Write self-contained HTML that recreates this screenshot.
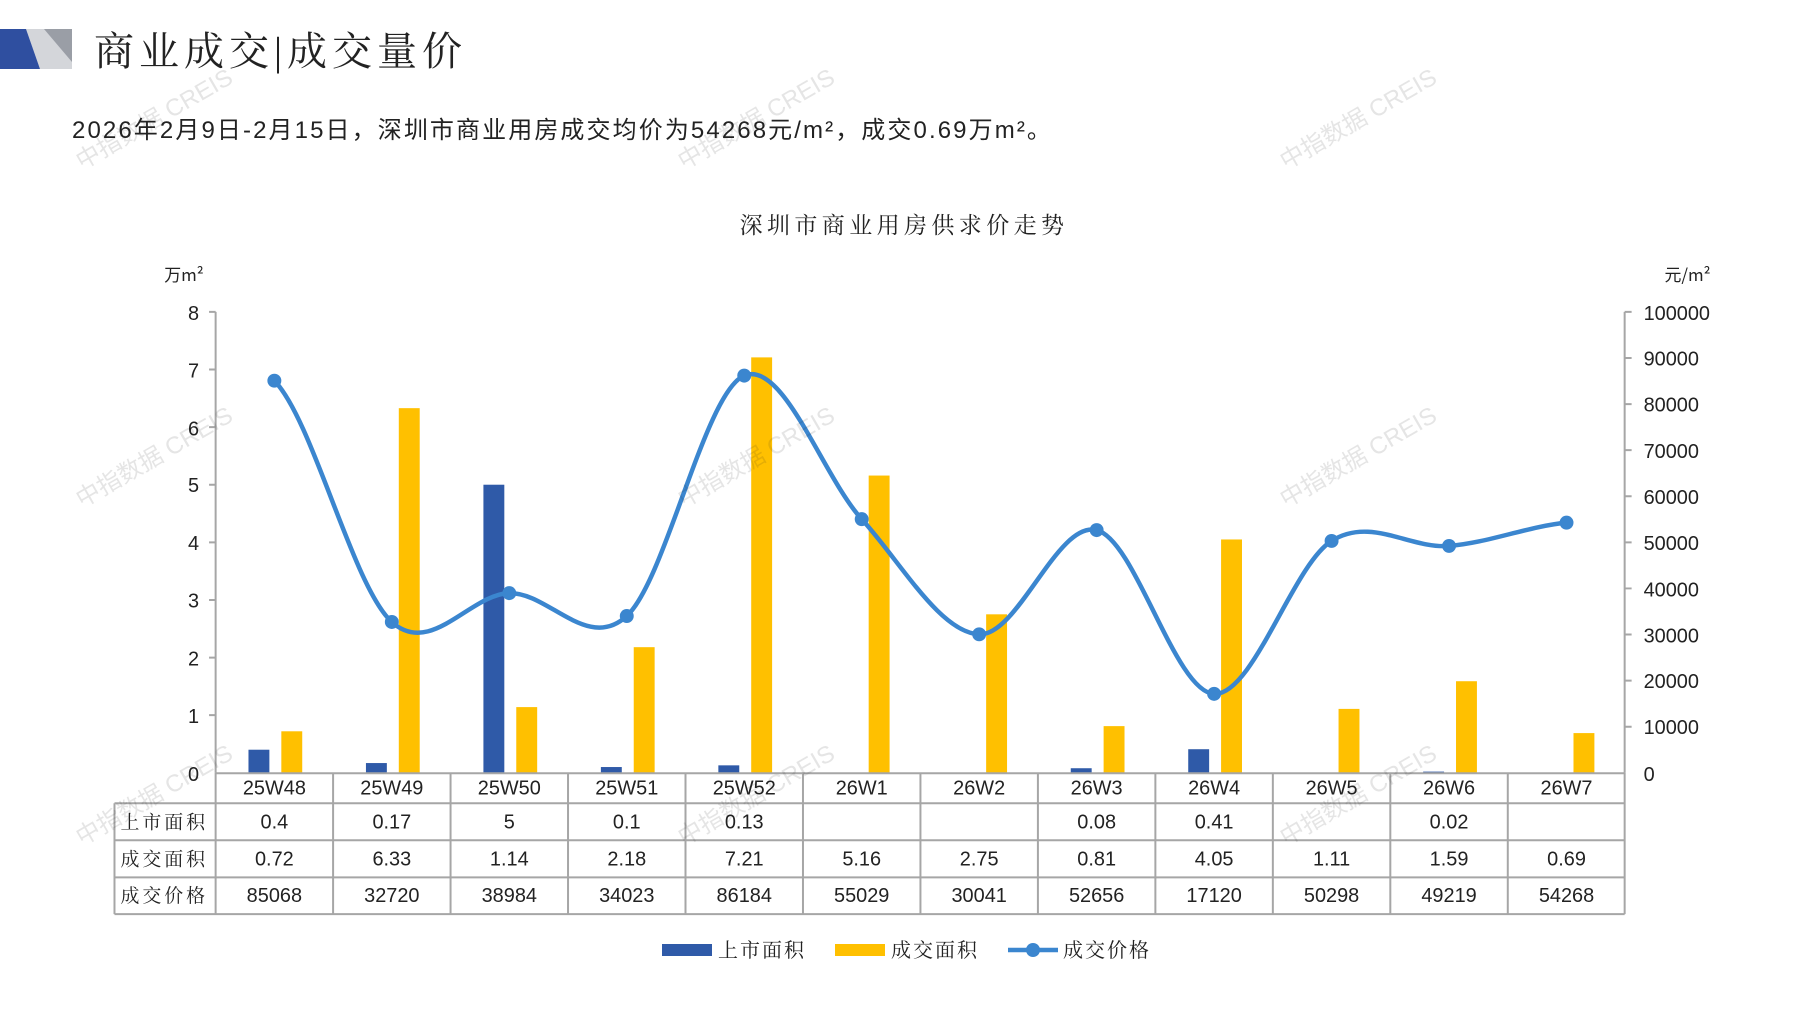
<!DOCTYPE html>
<html><head><meta charset="utf-8"><style>
html,body{margin:0;padding:0;background:#fff;}
svg{display:block;}
text{font-family:"Liberation Sans","Noto Sans CJK SC",sans-serif;fill:#222;}
.c{font-family:"Noto Sans CJK SC","WenQuanYi Zen Hei",sans-serif;}
.s{font-family:"Liberation Serif","Noto Serif CJK SC",serif;}
.wm{font-family:"Liberation Sans","Noto Sans CJK SC",sans-serif;fill:#000;opacity:0.12;font-size:24px;}
</style></head><body>
<svg width="1797" height="1010" viewBox="0 0 1797 1010" xmlns="http://www.w3.org/2000/svg">
<rect width="1797" height="1010" fill="#fff"/>
<polygon points="26,29 72,29 72,69 40,69" fill="#d4d6da"/>
<polygon points="44,29 72,29 72,62" fill="#9a9ea6"/>
<polygon points="0,29 26,29 40,69 0,69" fill="#2f4fa0"/>
<text x="94" y="65" class="s" font-size="40" fill="#111" letter-spacing="5">商业成交|成交量价</text>
<text x="72" y="138" font-size="24" fill="#333" letter-spacing="2.1">2026年2月9日-2月15日，深圳市商业用房成交均价为54268元/m²，成交0.69万m²。</text>
<text x="904" y="233" text-anchor="middle" class="s" font-size="23" fill="#333" letter-spacing="4.4">深圳市商业用房供求价走势</text>
<g transform="translate(0,0.3) scale(0.9955)">
<text x="165" y="282" class="c" font-size="17" fill="#333">万m²</text>
<text x="1672" y="282" class="c" font-size="17" fill="#333">元/m²</text>
<g stroke="#a6a6a6" stroke-width="2" fill="none">
<line x1="216.6" y1="313" x2="216.6" y2="776"/>
<line x1="1632" y1="313" x2="1632" y2="776"/>
<path d="M210 313H216.6M210 370.9H216.6M210 428.8H216.6M210 486.6H216.6M210 544.5H216.6M210 602.4H216.6M210 660.3H216.6M210 718.1H216.6"/>
<path d="M1632 313H1639M1632 359.3H1639M1632 405.6H1639M1632 451.9H1639M1632 498.2H1639M1632 544.5H1639M1632 590.8H1639M1632 637.1H1639M1632 683.4H1639M1632 729.7H1639"/>
</g>
<g font-size="20" fill="#333" text-anchor="end">
<text x="200" y="321">8</text><text x="200" y="379">7</text><text x="200" y="437">6</text><text x="200" y="494">5</text><text x="200" y="552">4</text><text x="200" y="610">3</text><text x="200" y="668">2</text><text x="200" y="726">1</text><text x="200" y="784">0</text>
</g>
<g font-size="20" fill="#333">
<text x="1651" y="321">100000</text><text x="1651" y="367">90000</text><text x="1651" y="413">80000</text><text x="1651" y="460">70000</text><text x="1651" y="506">60000</text><text x="1651" y="552">50000</text><text x="1651" y="599">40000</text><text x="1651" y="645">30000</text><text x="1651" y="691">20000</text><text x="1651" y="737">10000</text><text x="1651" y="784">0</text>
</g>
<g fill="#2f5aa8">
<rect x="249.6" y="752.8" width="21" height="23.2"/>
<rect x="367.6" y="766.2" width="21" height="9.8"/>
<rect x="485.6" y="486.6" width="21" height="289.4"/>
<rect x="603.6" y="770.2" width="21" height="5.8"/>
<rect x="721.6" y="768.5" width="21" height="7.5"/>
<rect x="1075.6" y="771.4" width="21" height="4.6"/>
<rect x="1193.6" y="752.3" width="21" height="23.7"/>
<rect x="1429.6" y="774.8" width="21" height="1.2"/>
</g>
<g fill="#ffc000">
<rect x="282.6" y="734.3" width="21" height="41.7"/>
<rect x="400.6" y="409.7" width="21" height="366.3"/>
<rect x="518.6" y="710" width="21" height="66"/>
<rect x="636.6" y="649.8" width="21" height="126.2"/>
<rect x="754.6" y="358.7" width="21" height="417.3"/>
<rect x="872.6" y="477.4" width="21" height="298.6"/>
<rect x="990.6" y="616.8" width="21" height="159.2"/>
<rect x="1108.6" y="729.1" width="21" height="46.9"/>
<rect x="1226.6" y="541.6" width="21" height="234.4"/>
<rect x="1344.6" y="711.8" width="21" height="64.2"/>
<rect x="1462.6" y="684" width="21" height="92"/>
<rect x="1580.6" y="736.1" width="21" height="39.9"/>
</g>
<path fill="none" stroke="#3b86cf" stroke-width="4.5" stroke-linecap="round" d="M275.6,382.1 C314.9,422.5 354.3,588.9 393.6,624.5 C432.9,660.1 472.3,596.5 511.6,595.5 C550.9,594.5 590.3,654.9 629.6,618.5 C668.9,582.1 708.3,393.2 747.6,377.0 C786.9,360.8 826.3,477.9 865.6,521.2 C904.9,564.5 944.3,635.1 983.6,636.9 C1022.9,638.7 1062.3,522.2 1101.6,532.2 C1140.9,542.2 1180.3,694.9 1219.6,696.7 C1258.9,698.5 1298.3,567.9 1337.6,543.1 C1376.9,518.3 1416.3,551.2 1455.6,548.1 C1494.9,545.0 1534.3,528.6 1573.6,524.7"/>
<g fill="#3b86cf">
<circle cx="275.6" cy="382.1" r="7"/><circle cx="393.6" cy="624.5" r="7"/><circle cx="511.6" cy="595.5" r="7"/><circle cx="629.6" cy="618.5" r="7"/><circle cx="747.6" cy="377" r="7"/><circle cx="865.6" cy="521.2" r="7"/><circle cx="983.6" cy="636.9" r="7"/><circle cx="1101.6" cy="532.2" r="7"/><circle cx="1219.6" cy="696.7" r="7"/><circle cx="1337.6" cy="543.1" r="7"/><circle cx="1455.6" cy="548.1" r="7"/><circle cx="1573.6" cy="524.7" r="7"/>
</g>
<g stroke="#a6a6a6" stroke-width="2" fill="none">
<line x1="216.6" y1="776.5" x2="1632" y2="776.5"/>
<line x1="115" y1="806.6" x2="1632" y2="806.6"/>
<line x1="115" y1="843.8" x2="1632" y2="843.8"/>
<line x1="115" y1="881" x2="1632" y2="881"/>
<line x1="115" y1="918" x2="1632" y2="918"/>
<line x1="115" y1="806.6" x2="115" y2="918"/>
<path d="M216.6 776V918M334.6 776V918M452.6 776V918M570.6 776V918M688.6 776V918M806.6 776V918M924.6 776V918M1042.6 776V918M1160.6 776V918M1278.6 776V918M1396.6 776V918M1514.6 776V918M1632 776V918"/>
</g>
<g font-size="20" fill="#222" text-anchor="middle">
<text x="275.6" y="798">25W48</text><text x="393.6" y="798">25W49</text><text x="511.6" y="798">25W50</text><text x="629.6" y="798">25W51</text><text x="747.6" y="798">25W52</text><text x="865.6" y="798">26W1</text><text x="983.6" y="798">26W2</text><text x="1101.6" y="798">26W3</text><text x="1219.6" y="798">26W4</text><text x="1337.6" y="798">26W5</text><text x="1455.6" y="798">26W6</text><text x="1573.6" y="798">26W7</text>
<text x="275.6" y="832">0.4</text><text x="393.6" y="832">0.17</text><text x="511.6" y="832">5</text><text x="629.6" y="832">0.1</text><text x="747.6" y="832">0.13</text><text x="1101.6" y="832">0.08</text><text x="1219.6" y="832">0.41</text><text x="1455.6" y="832">0.02</text>
<text x="275.6" y="869">0.72</text><text x="393.6" y="869">6.33</text><text x="511.6" y="869">1.14</text><text x="629.6" y="869">2.18</text><text x="747.6" y="869">7.21</text><text x="865.6" y="869">5.16</text><text x="983.6" y="869">2.75</text><text x="1101.6" y="869">0.81</text><text x="1219.6" y="869">4.05</text><text x="1337.6" y="869">1.11</text><text x="1455.6" y="869">1.59</text><text x="1573.6" y="869">0.69</text>
<text x="275.6" y="906">85068</text><text x="393.6" y="906">32720</text><text x="511.6" y="906">38984</text><text x="629.6" y="906">34023</text><text x="747.6" y="906">86184</text><text x="865.6" y="906">55029</text><text x="983.6" y="906">30041</text><text x="1101.6" y="906">52656</text><text x="1219.6" y="906">17120</text><text x="1337.6" y="906">50298</text><text x="1455.6" y="906">49219</text><text x="1573.6" y="906">54268</text>
</g>
<g font-size="19" fill="#222">
<text x="121" y="832" class="s" letter-spacing="3">上市面积</text>
<text x="121" y="869" class="s" letter-spacing="3">成交面积</text>
<text x="121" y="906" class="s" letter-spacing="3">成交价格</text>
</g>
</g>
<rect x="662" y="944" width="50" height="12" fill="#2f5aa8"/>
<text x="718" y="957" class="s" font-size="20" letter-spacing="2">上市面积</text>
<rect x="835" y="944" width="50" height="12" fill="#ffc000"/>
<text x="891" y="957" class="s" font-size="20" letter-spacing="2">成交面积</text>
<line x1="1008" y1="950" x2="1058" y2="950" stroke="#3b86cf" stroke-width="4.5"/>
<circle cx="1033" cy="950" r="7" fill="#3b86cf"/>
<text x="1063" y="957" class="s" font-size="20" letter-spacing="2">成交价格</text>
<g class="wm">
<text transform="translate(82,170) rotate(-30)">中指数据 CREIS</text>
<text transform="translate(684,170) rotate(-30)">中指数据 CREIS</text>
<text transform="translate(1286,170) rotate(-30)">中指数据 CREIS</text>
<text transform="translate(82,508) rotate(-30)">中指数据 CREIS</text>
<text transform="translate(684,508) rotate(-30)">中指数据 CREIS</text>
<text transform="translate(1286,508) rotate(-30)">中指数据 CREIS</text>
<text transform="translate(82,846) rotate(-30)">中指数据 CREIS</text>
<text transform="translate(684,846) rotate(-30)">中指数据 CREIS</text>
<text transform="translate(1286,846) rotate(-30)">中指数据 CREIS</text>
</g>
</svg>
</body></html>
